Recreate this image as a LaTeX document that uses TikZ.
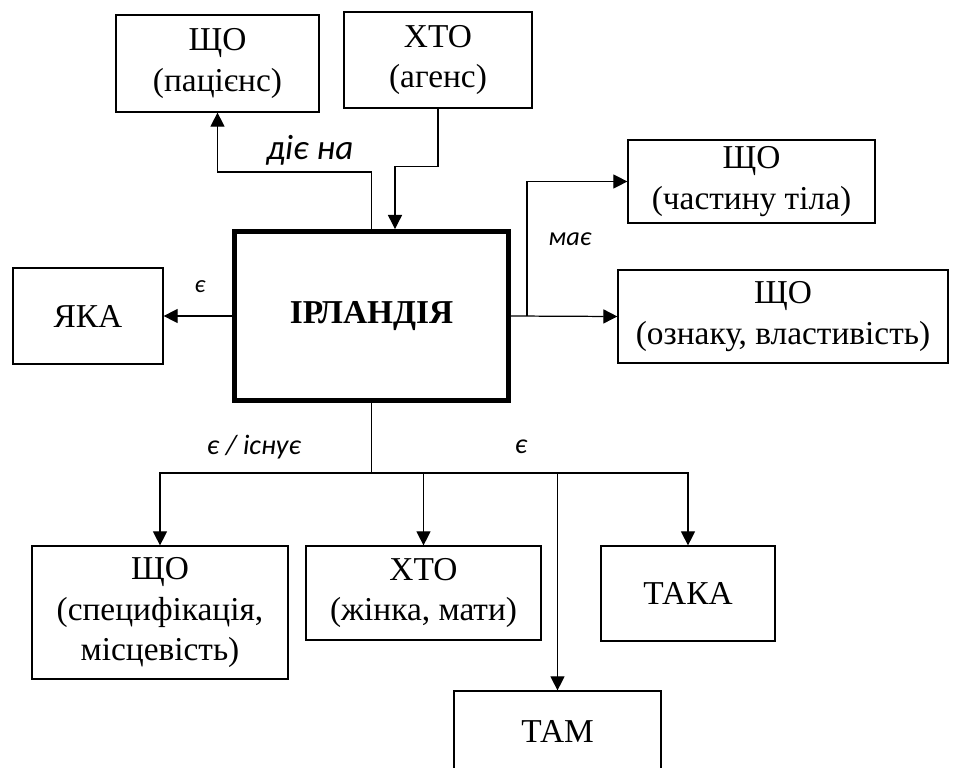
\documentclass[tikz,border=0pt]{standalone}
\usepackage{fontspec}
\setmainfont{Liberation Serif}
\newfontfamily\lblfont{Carlito}
\usetikzlibrary{arrows.meta}

\begin{document}
\begin{tikzpicture}[x=0.02cm,y=-0.02cm,
    box/.style={draw,line width=0.7pt,align=center,inner sep=0pt,
      font=\fontsize{19}{23}\selectfont},
    sz/.style 2 args={minimum width=#1*0.02cm,minimum height=#2*0.02cm},
    arr/.style={line width=0.7pt,-{Triangle[length=8pt,width=8pt]}},
    lnk/.style={line width=0.7pt},
    lbl/.style={font=\lblfont\itshape\fontsize{#1}{#1}\selectfont}]
    \useasboundingbox (0,0) rectangle (959,767);
    \clip (0,0) rectangle (959,767);

    % Central concept
    \node[box,line width=2.8pt,sz={274}{169},
      font=\fontsize{19}{23}\selectfont\bfseries] (irl) at (371.5,316) {ІРЛАНДІЯ};

    % Upper boxes
    \node[box,sz={203}{97}] (pat) at (217.5,63.5) {ЩО\\(пацієнс)};
    \node[box,sz={188}{96}] (agn) at (438,60) {ХТО\\(агенс)};

    % Right boxes
    \node[box,sz={247}{83}] (body) at (751.5,181.5) {ЩО\\(частину тіла)};
    \node[box,sz={330}{93}] (prop) at (783,316.5) {ЩО\\(ознаку, властивість)};

    % Left box
    \node[box,sz={150}{96}] (yaka) at (88,316) {ЯКА};

    % Lower boxes
    \node[box,sz={256}{133}] (spec) at (160,612.5) {ЩО\\(специфікація,\\місцевість)};
    \node[box,sz={235}{94}] (who) at (423.5,593) {ХТО\\(жінка, мати)};
    \node[box,sz={174}{95}] (taka) at (688,593.5) {ТАКА};
    \node[box,sz={207}{80}] (tam) at (557.5,731) {ТАМ};

    % Upper links
    \draw[arr] (irl.north) -- ++(0,-57) -| (pat.south);
    \draw[arr] (agn.south) -- ++(0,58) -| ([xshift=0.47cm]irl.north);
    \node[lbl=20] (lblact) at (310,150) {діє на};

    % Left link
    \draw[arr] (irl.west) -- (yaka.east);
    \node[lbl=14] (lblis) at (200,287) {є};

    % Right links
    \coordinate (rj) at (527,316);
    \draw[arr] (irl.east) -- (prop.west);
    \draw[arr] (rj) |- (body.west);
    \node[lbl=15] (lblhas) at (570,239) {має};

    % Lower links
    \coordinate (bj) at (371.5,473);
    \draw[lnk] (irl.south) -- (bj);
    \foreach \n in {spec,who,taka,tam}
        \draw[arr] (bj) -| (\n.north);
    \node[lbl=16] (lblexist) at (254,447) {є / існує};
    \node[lbl=16] (lblis2) at (521,447) {є};
\end{tikzpicture}
\end{document}
